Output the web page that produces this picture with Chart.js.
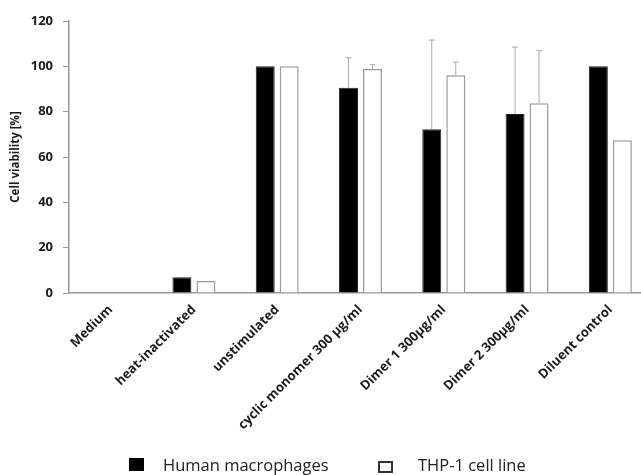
<!DOCTYPE html>
<html>
<head>
<meta charset="utf-8">
<script src="https://cdn.jsdelivr.net/npm/chart.js@4.4.1/dist/chart.umd.min.js"></script>
<style>
  html, body { margin: 0; padding: 0; background: #fff; overflow: hidden; }
  #wrap { position: relative; width: 641px; height: 475px; overflow: hidden; }
  #box { position: absolute; left: 0; top: 0; width: 655px; height: 475px; }
  .lg { position: absolute; font-family: "Open Sans", sans-serif; font-size: 16.5px; color: #222; line-height: 1; white-space: nowrap; }
  .sw { position: absolute; box-sizing: border-box; }
</style>
</head>
<body>
<div id="wrap">
  <div id="box"><canvas id="c"></canvas></div>
  <div class="sw" style="left:129px;top:458px;width:15px;height:13px;background:#000;"></div>
  <div class="lg" style="left:163px;top:457px;">Human macrophages</div>
  <div class="sw" style="left:378px;top:461px;width:15px;height:12px;border:2px solid #333;background:#fff;"></div>
  <div class="lg" style="left:418px;top:457px;">THP-1 cell line</div>
</div>
<script>
const categories = ["Medium", "heat-inactivated", "unstimulated", "cyclic monomer 300 \u00b5g/ml", "Dimer 1 300\u00b5g/ml", "Dimer 2 300\u00b5g/ml", "Diluent control"];
const seriesNames = ["Human macrophages", "THP-1 cell line"];
const macrophages = [0, 7, 100, 90.5, 72.2, 79, 100];
const macrophagesErr = [0, 0, 0, 13.3, 39.4, 29.5, 0];
const thp1 = [0, 5.3, 100, 98.8, 96.1, 83.7, 67.4];
const thp1Err = [0, 0, 0, 1.9, 5.8, 23.2, 0];
const yTicks = [0, 20, 40, 60, 80, 100, 120];

const errorBars = {
  id: 'errorBars',
  afterDatasetsDraw(chart) {
    const ctx = chart.ctx;
    const y = chart.scales.y;
    chart.data.datasets.forEach((ds, di) => {
      const meta = chart.getDatasetMeta(di);
      ds.errors.forEach((e, i) => {
        if (!e) return;
        const bar = meta.data[i];
        const top = y.getPixelForValue(ds.data[i] + e);
        ctx.save();
        ctx.strokeStyle = '#aaa';
        ctx.lineWidth = 1;
        ctx.beginPath();
        ctx.moveTo(bar.x, bar.y);
        ctx.lineTo(bar.x, top);
        ctx.moveTo(bar.x - 3, top);
        ctx.lineTo(bar.x + 3, top);
        ctx.stroke();
        ctx.restore();
      });
    });
  }
};

new Chart(document.getElementById('c'), {
  type: 'bar',
  data: {
    labels: categories,
    datasets: [
      { label: seriesNames[0], data: macrophages, errors: macrophagesErr, backgroundColor: '#000', borderColor: '#222', borderWidth: 1 },
      { label: seriesNames[1], data: thp1, errors: thp1Err, backgroundColor: '#fff', borderColor: '#999', borderWidth: 1.5 }
    ]
  },
  options: {
    responsive: true,
    maintainAspectRatio: false,
    animation: false,
    devicePixelRatio: 1,
    categoryPercentage: 0.576,
    barPercentage: 0.79,
    layout: { padding: { top: 21, right: 3, left: 0, bottom: 0 } },
    plugins: { legend: { display: false }, tooltip: { enabled: false } },
    scales: {
      x: {
        grid: { display: false },
        border: { color: '#999', width: 1.5 },
        ticks: {
          minRotation: 45, maxRotation: 45, autoSkip: false, padding: 1,
          color: '#1a1a1a',
          font: { family: 'Open Sans', weight: 'bold', size: 13 }
        },
        afterFit(s) { s.height = 182; }
      },
      y: {
        min: 0, max: 120,
        afterBuildTicks(s) { s.ticks = yTicks.map(v => ({ value: v })); },
        grid: { drawOnChartArea: false, drawTicks: true, tickLength: 6, color: '#999' },
        border: { color: '#999', width: 1.5 },
        ticks: {
          padding: 10, color: '#1a1a1a',
          font: { family: 'Open Sans', weight: 'bold', size: 13 }
        },
        title: {
          display: true, text: 'Cell viability [%]', color: '#1a1a1a',
          font: { family: 'Open Sans', weight: 'bold', size: 11.5 },
          padding: { top: 9, bottom: 0 }
        },
        afterFit(s) { s.width = 69; }
      }
    }
  },
  plugins: [errorBars]
});
</script>
</body>
</html>
